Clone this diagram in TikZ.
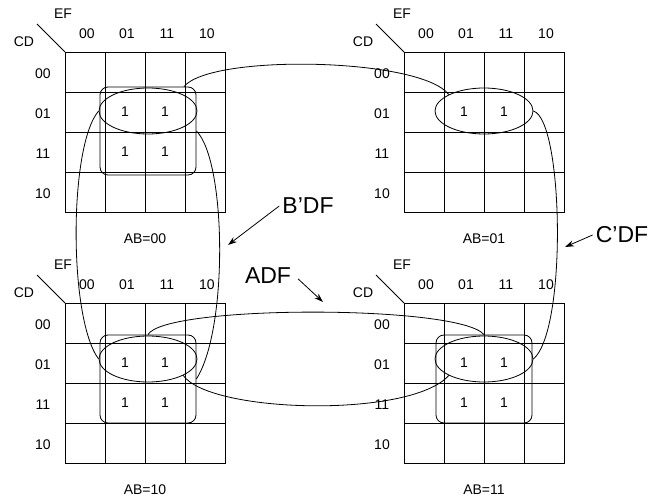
\documentclass[tikz,border=0pt]{standalone}
\usepackage{fontspec}
\setmainfont{Liberation Sans}
\usetikzlibrary{shapes.geometric,arrows.meta}

\begin{document}
\begin{tikzpicture}[
    x=1pt, y=-1pt,
    every node/.style={font=\fontsize{14}{16}\selectfont},
    cell/.style={line width=0.8pt},
    bigtext/.style={font=\fontsize{23}{26}\selectfont, inner sep=3pt},
    ovalgroup/.style={ellipse, draw, line width=0.8pt, minimum width=98pt, minimum height=46pt, inner sep=0pt},
    boxgroup/.style={rectangle, draw, rounded corners=8pt, line width=0.8pt, minimum width=96pt, minimum height=88pt, inner sep=0pt},
    link/.style={line width=0.8pt},
    arrow/.style={-{Stealth[length=9pt,width=6pt]}, line width=0.8pt}
]
\useasboundingbox (0,0) rectangle (651,500);

% Karnaugh maps (one per AB value)
\foreach \m/\mx/\my/\ab/\n in {tl/65/52/00/2, tr/404/52/01/1, bl/65/303/10/2, br/404/303/11/2} {
  \begin{scope}[shift={(\mx,\my)}]
    \draw[cell] (0,0) rectangle (160,160);
    \foreach \i in {40,80,120} {
      \draw[cell] (\i,0) -- (\i,160);
      \draw[cell] (0,\i) -- (160,\i);
    }
    \draw[cell] (-28,-28) -- (0,0);
    \node (\m-ef) at (-2,-38) {EF};
    \node (\m-cd) at (-41,-10) {CD};
    \foreach \v [count=\k from 0] in {00,01,11,10} {
      \node (\m-col\k) at (22+40*\k,-18) {\v};
      \node (\m-row\k) at (-22,22+40*\k) {\v};
    }
    \foreach \r in {1,...,\n} {
      \foreach \c in {1,2} {
        \node (\m-one\r\c) at (20+40*\c,20+40*\r) {1};
      }
    }
    \node (\m-ab) at (80,187) {AB=\ab};
  \end{scope}
}

% Groupings
\node[boxgroup] (tlbox) at (148,131) {};
\node[ovalgroup] (tlring) at (148,111) {};
\node[ovalgroup] (trring) at (484,111) {};
\node[boxgroup] (blbox) at (148,379) {};
\node[ovalgroup] (blring) at (148,359) {};
\node[boxgroup] (brbox) at (484,379) {};
\node[ovalgroup] (brring) at (484,359) {};

% Links between maps
\draw[link] (tlbox.51) .. controls +(27,-33) and +(-28,-37) .. (trring.155);
\draw[link] (tlring.west) .. controls +(-30,35) and +(-30,-40) .. (blring.west);
\draw[link] (tlbox.east) .. controls +(30,30) and +(32,-50) .. (blbox.east);
\draw[link] (trring.east) .. controls +(30,9) and +(34,-29) .. (brring.east);
\draw[link] (blbox.north) .. controls +(17,-30) and +(-25,-30) .. (brbox.north);
\draw[link] (blring.-25) .. controls +(27,38) and +(-38,43) .. (brring.205);

% Term labels
\node[bigtext] (bdf) at (308,206) {B’DF};
\node[bigtext] (cdf) at (622,235) {C’DF};
\node[bigtext, inner sep=7pt] (adf) at (268,276) {ADF};
\coordinate (bdftip) at (228,245);
\coordinate (cdftip) at (565,247);
\coordinate (adftip) at (323,302);
\draw[arrow] (bdf.west) -- (bdftip);
\draw[arrow] (cdf.west) -- (cdftip);
\draw[arrow] ([yshift=-3pt]adf.east) -- (adftip);

\end{tikzpicture}
\end{document}
